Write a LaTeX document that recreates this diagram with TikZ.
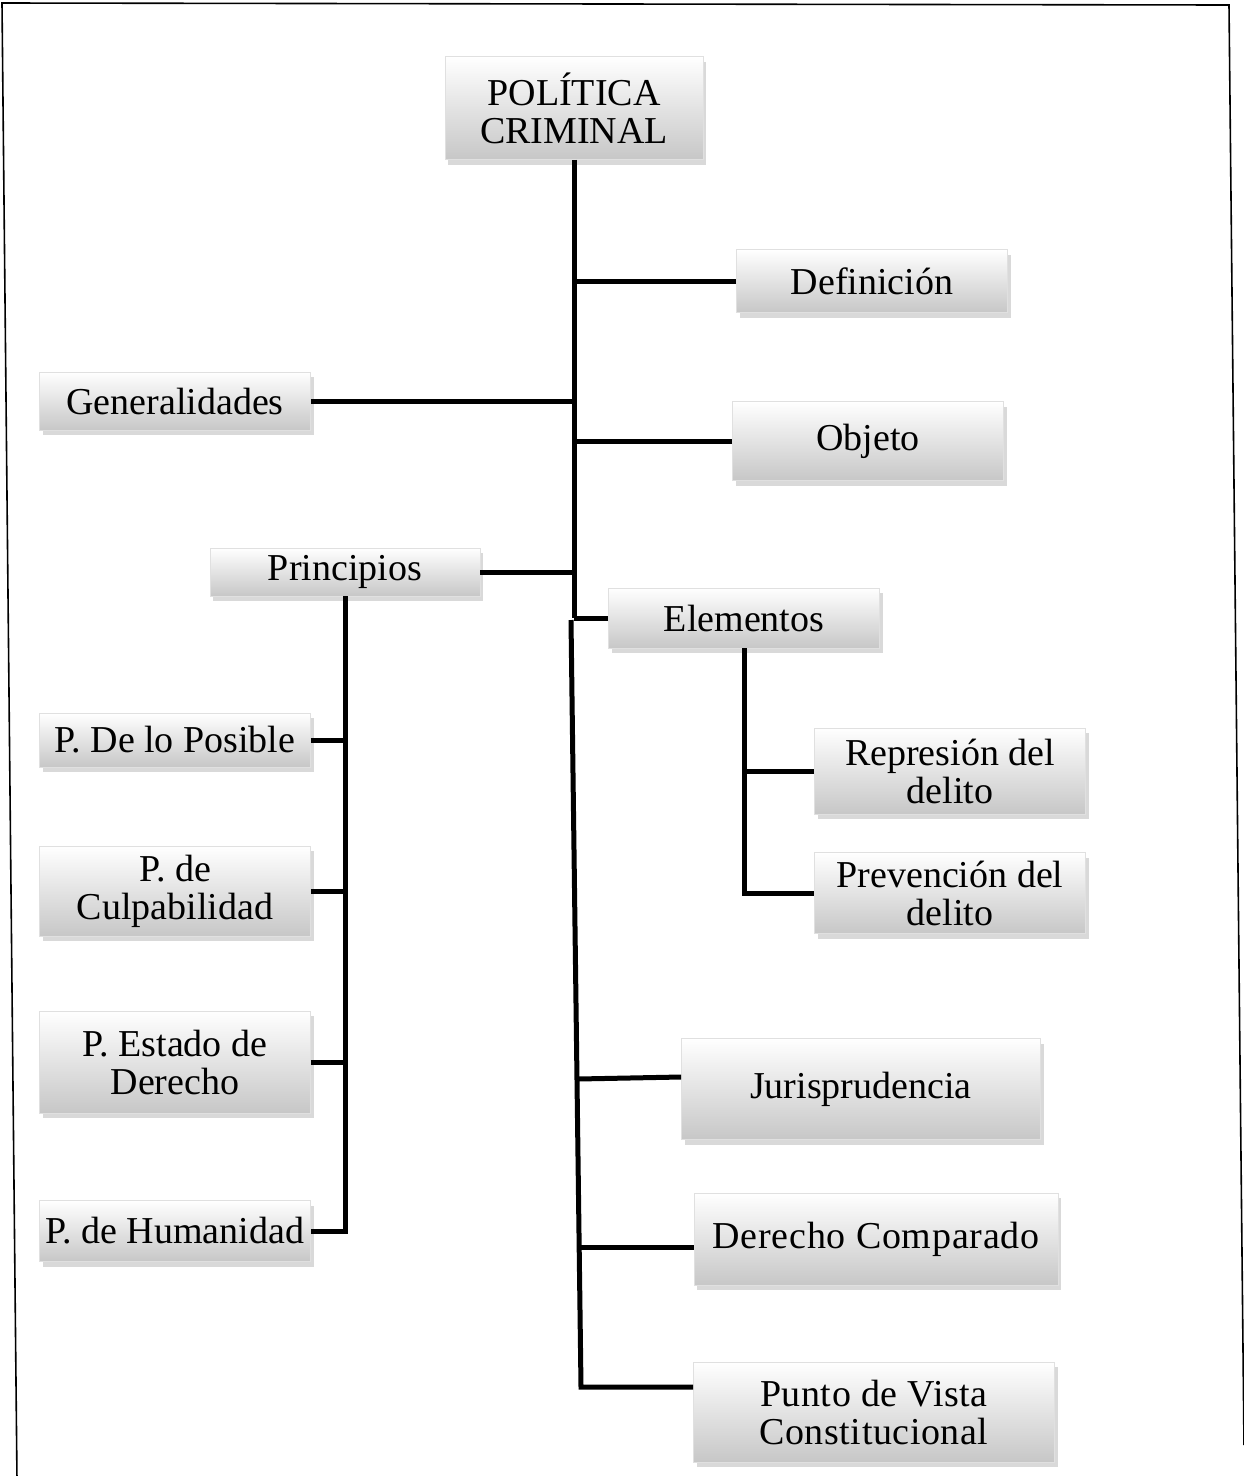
\documentclass[tikz,border=0pt]{standalone}
\usepackage{fontspec}
\setmainfont{Liberation Serif}
\usetikzlibrary{shadows}

\tikzset{
  caja/.style={rectangle, inner sep=0pt, align=center,
    draw=black!12, line width=0.8pt,
    top color=white, bottom color=black!22,
    drop shadow={shadow xshift=3pt, shadow yshift=-5pt, opacity=0.3},
    font=\fontsize{38}{38}\selectfont},
  rama/.style={line width=5pt},
}

\begin{document}
\begin{tikzpicture}[x=1pt,y=-1pt]

      \useasboundingbox (0,0) rectangle (1244,1476);
      \draw[line width=1.6pt] (17,1480) -- (2,3) -- (1229,5) -- (1244,1445);

      \begin{scope}[every node/.style={caja}]
        \node[minimum width=258pt, minimum height=103pt] (pc)   at (574,108)  {POLÍTICA\\CRIMINAL};
        \node[minimum width=271pt, minimum height=63pt]  (def)  at (872,281)  {Definición};
        \node[minimum width=271pt, minimum height=58pt]  (gen)  at (175,401)  {Generalidades};
        \node[minimum width=271pt, minimum height=79pt]  (obj)  at (868,441)  {Objeto};
        \node[minimum width=270pt, minimum height=48pt]  (pri)  at (345,572)  {Principios};
        \node[minimum width=271pt, minimum height=60pt]  (ele)  at (744,618)  {Elementos};
        \node[minimum width=271pt, minimum height=86pt]  (rep)  at (950,771)  {Represión del\\delito};
        \node[minimum width=271pt, minimum height=81pt]  (prev) at (950,893)  {Prevención del\\delito};
        \node[minimum width=359pt, minimum height=101pt] (jur)  at (861,1089) {Jurisprudencia};
        \node[minimum width=364pt, minimum height=92pt]  (dc)   at (876,1239) {\addfontfeature{LetterSpace=2}Derecho Comparado};
        \node[minimum width=361pt, minimum height=100pt] (pvc)  at (874,1412) {\addfontfeature{LetterSpace=1.5}Punto de Vista\\\addfontfeature{LetterSpace=1.5}Constitucional};
        \node[minimum width=271pt, minimum height=54pt]  (pp)   at (175,740)  {P. De lo Posible};
        \node[minimum width=271pt, minimum height=90pt]  (pcu)  at (175,891)  {P. de\\Culpabilidad};
        \node[minimum width=271pt, minimum height=102pt] (ped)  at (175,1062) {P. Estado de\\Derecho};
        \node[minimum width=271pt, minimum height=61pt]  (phu)  at (175,1231) {P. de Humanidad};
      \end{scope}

      % tronco principal
      \coordinate (a) at (574,618);
      \draw[rama] (pc.south) -- (a);
      \draw[rama] (def.west) -- (def.west -| a);
      \draw[rama] (gen.east) -- (gen.east -| a);
      \draw[rama] (obj.west) -- (obj.west -| a);
      \draw[rama] (pri.east) -- (pri.east -| a);
      \draw[rama] (ele.west) -- (ele.west -| a);

      % segundo tronco
      \coordinate (b1) at (571,620);
      \coordinate (b2) at (581,1387);
      \coordinate (j) at (578,1079);
      \coordinate (d) at (580,1247);
      \draw[rama] (b1) -- (b2) -- ([yshift=25pt]pvc.west);
      \draw[rama] (j) -- ([yshift=12pt]jur.west);
      \draw[rama] (d) -- ([yshift=-8pt]dc.west);

      % principios
      \draw[rama] (pri.south) -- (pri.south |- phu.east) -- (phu.east);
      \draw[rama] (pp.east) -- (pp.east -| pri.south);
      \draw[rama] (pcu.east) -- (pcu.east -| pri.south);
      \draw[rama] (ped.east) -- (ped.east -| pri.south);

      % elementos
      \draw[rama] (ele.south) |- (prev.west);
      \draw[rama] (rep.west) -- (rep.west -| ele.south);

    \end{tikzpicture}
\end{document}
